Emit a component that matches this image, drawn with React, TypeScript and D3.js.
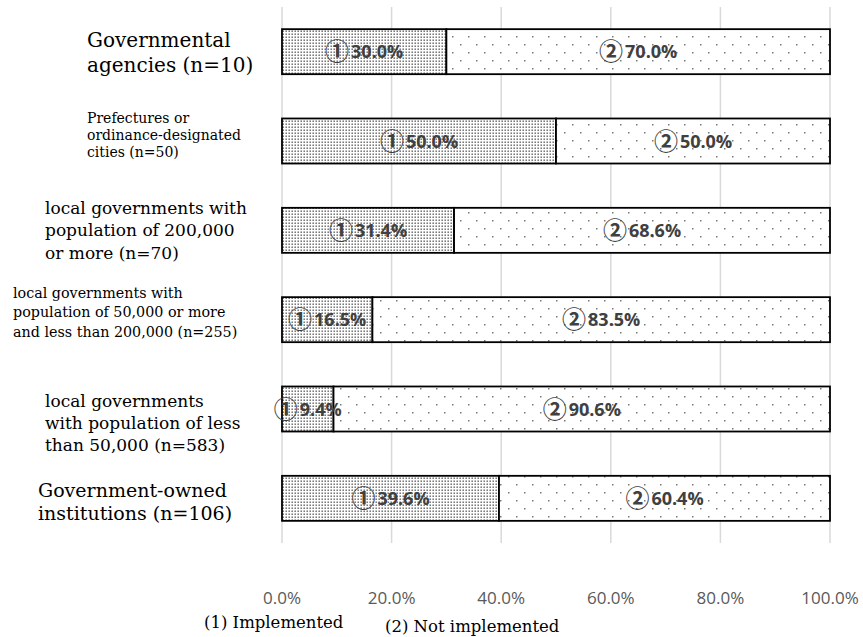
import React from "react";
import * as d3 from "d3";

const categories = [
  "Governmental agencies (n=10)",
  "Prefectures or ordinance-designated cities (n=50)",
  "local governments with population of 200,000 or more (n=70)",
  "local governments with population of 50,000 or more and less than 200,000 (n=255)",
  "local governments with population of less than 50,000 (n=583)",
  "Government-owned institutions (n=106)",
];
const labelLines = [
  ["Governmental", "agencies (n=10)"],
  ["Prefectures or", "ordinance-designated", "cities (n=50)"],
  ["local governments with", "population of 200,000", "or more (n=70)"],
  ["local governments with", "population of 50,000 or more", "and less than 200,000 (n=255)"],
  ["local governments", "with population of less", "than 50,000 (n=583)"],
  ["Government-owned", "institutions (n=106)"],
];
const implemented = [30.0, 50.0, 31.4, 16.5, 9.4, 39.6];
const notImplemented = [70.0, 50.0, 68.6, 83.5, 90.6, 60.4];
const seriesNames = ["(1) Implemented", "(2) Not implemented"];
const seriesMarks = ["\u2460", "\u2461"];
const tickValues = [0, 20, 40, 60, 80, 100];

// layout of the category labels (style only)
const labelStyle = [
  { x: 87, size: 20, lh: 25, dy: -5 },
  { x: 87, size: 14, lh: 17, dy: -18 },
  { x: 45, size: 17, lh: 22.5, dy: -16.4 },
  { x: 13, size: 14.3, lh: 19.5, dy: -21.7 },
  { x: 45, size: 17, lh: 22, dy: -2 },
  { x: 38, size: 19, lh: 23.5, dy: -1.4 },
];

const W = 863;
const H = 637;
const serif = "'DejaVu Serif', serif";
const sans = "'Open Sans', 'Noto Sans', sans-serif";

export default function App() {
  const x = d3.scaleLinear().domain([0, 100]).range([282, 830]);
  const y = d3
    .scaleBand<number>()
    .domain(d3.range(categories.length))
    .range([7, 543])
    .paddingInner(0.496)
    .paddingOuter(0.248);
  const bw = y.bandwidth();
  const series = [implemented, notImplemented];
  const fills = ["url(#dense)", "url(#sparse)"];

  return (
    <svg
      width={W}
      height={H}
      style={{ position: "absolute", left: 0, top: 0, background: "#fff" }}
    >
      <defs>
        <pattern id="dense" patternUnits="userSpaceOnUse" width={3} height={3}>
          <rect width={3} height={3} fill="#fff" />
          <rect x={0.5} y={0.5} width={1.4} height={1.4} fill="#5a5a5a" />
        </pattern>
        <pattern id="sparse" patternUnits="userSpaceOnUse" width={16} height={16}>
          <rect width={16} height={16} fill="#fff" />
          <rect x={4} y={4} width={1.5} height={1.5} fill="#777" />
          <rect x={12} y={12} width={1.5} height={1.5} fill="#777" />
        </pattern>
      </defs>

      {tickValues.map((t) => (
        <line
          key={"g" + t}
          x1={x(t)}
          x2={x(t)}
          y1={7}
          y2={543}
          stroke="#d9d9d9"
          strokeWidth={1.5}
        />
      ))}

      {categories.map((c, i) => {
        const y0 = y(i)!;
        let acc = 0;
        return (
          <g key={c}>
            {series.map((s, k) => {
              const x0 = x(acc);
              acc += s[i];
              const x1 = x(acc);
              return (
                <rect
                  key={k}
                  x={x0}
                  y={y0}
                  width={x1 - x0}
                  height={bw}
                  fill={fills[k]}
                  stroke="#000"
                  strokeWidth={1.8}
                />
              );
            })}
          </g>
        );
      })}

      {categories.map((c, i) => {
        const cy = y(i)! + bw / 2;
        let acc = 0;
        return (
          <g key={"l" + c}>
            {series.map((s, k) => {
              const mid = x(acc + s[i] / 2);
              acc += s[i];
              return (
                <text
                  key={k}
                  x={mid}
                  y={cy + 6.5}
                  textAnchor="middle"
                  fill="#404040"
                  fontFamily={sans}
                  fontWeight="bold"
                  fontSize={18}
                >
                  <tspan
                    fontFamily="'Noto Sans CJK JP', sans-serif"
                    fontWeight="bold"
                    fontSize={24}
                    dy={2}
                  >
                    {seriesMarks[k]}
                  </tspan>
                  <tspan dx={2} dy={-2}>
                    {s[i].toFixed(1) + "%"}
                  </tspan>
                </text>
              );
            })}
          </g>
        );
      })}

      {labelLines.map((lines, i) => {
        const st = labelStyle[i];
        const cy = y(i)! + bw / 2;
        return (
          <text key={"c" + i} fontFamily={serif} fontSize={st.size} fill="#000">
            {lines.map((ln, j) => (
              <tspan key={j} x={st.x} y={cy + st.dy + j * st.lh}>
                {ln}
              </tspan>
            ))}
          </text>
        );
      })}

      {tickValues.map((t) => (
        <text
          key={"t" + t}
          x={x(t)}
          y={604}
          textAnchor="middle"
          fontFamily={sans}
          fontSize={17}
          fill="#595959"
        >
          {t.toFixed(1) + "%"}
        </text>
      ))}

      <text x={204} y={628} fontFamily={serif} fontSize={16.5} fill="#000">
        {seriesNames[0]}
      </text>
      <text x={385} y={632} fontFamily={serif} fontSize={16.5} fill="#000">
        {seriesNames[1]}
      </text>
    </svg>
  );
}
